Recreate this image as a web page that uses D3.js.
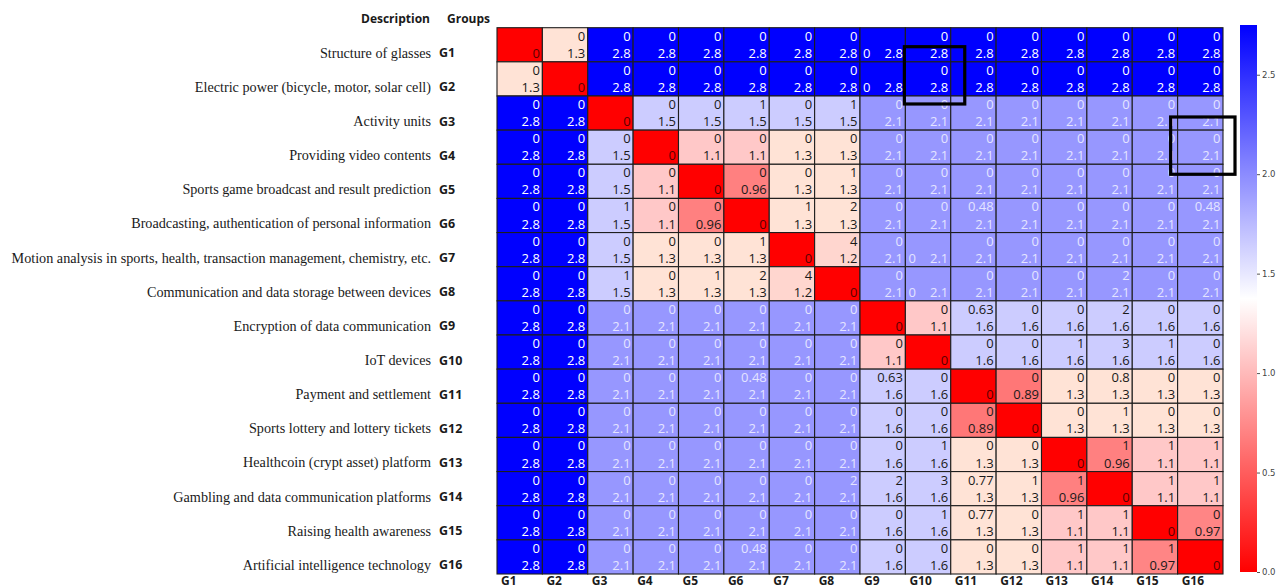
<!DOCTYPE html>
<html>
<head>
<meta charset="utf-8">
<script src="https://cdn.jsdelivr.net/npm/d3@7"></script>
<style>
  html, body { margin: 0; padding: 0; background: #ffffff; }
  svg { display: block; }
</style>
</head>
<body>
<svg id="chart" width="1288" height="588"></svg>
<script>
// Technology groups and their descriptions
const groups = ["G1","G2","G3","G4","G5","G6","G7","G8","G9","G10","G11","G12","G13","G14","G15","G16"];
const descriptions = [
  "Structure of glasses",
  "Electric power (bicycle, motor, solar cell)",
  "Activity units",
  "Providing video contents",
  "Sports game broadcast and result prediction",
  "Broadcasting, authentication of personal information",
  "Motion analysis in sports, health, transaction management, chemistry, etc.",
  "Communication and data storage between devices",
  "Encryption of data communication",
  "IoT devices",
  "Payment and settlement",
  "Sports lottery and lottery tickets",
  "Healthcoin (crypt asset) platform",
  "Gambling and data communication platforms",
  "Raising health awareness",
  "Artificial intelligence technology"
];

// Distance between groups (lower value in each cell, drives the colour)
const distanceRows = [
  [0, 1.3, 2.8, 2.8, 2.8, 2.8, 2.8, 2.8, 2.8, 2.8, 2.8, 2.8, 2.8, 2.8, 2.8, 2.8],
  [1.3, 0, 2.8, 2.8, 2.8, 2.8, 2.8, 2.8, 2.8, 2.8, 2.8, 2.8, 2.8, 2.8, 2.8, 2.8],
  [2.8, 2.8, 0, 1.5, 1.5, 1.5, 1.5, 1.5, 2.1, 2.1, 2.1, 2.1, 2.1, 2.1, 2.1, 2.1],
  [2.8, 2.8, 1.5, 0, 1.1, 1.1, 1.3, 1.3, 2.1, 2.1, 2.1, 2.1, 2.1, 2.1, 2.1, 2.1],
  [2.8, 2.8, 1.5, 1.1, 0, 0.96, 1.3, 1.3, 2.1, 2.1, 2.1, 2.1, 2.1, 2.1, 2.1, 2.1],
  [2.8, 2.8, 1.5, 1.1, 0.96, 0, 1.3, 1.3, 2.1, 2.1, 2.1, 2.1, 2.1, 2.1, 2.1, 2.1],
  [2.8, 2.8, 1.5, 1.3, 1.3, 1.3, 0, 1.2, 2.1, 2.1, 2.1, 2.1, 2.1, 2.1, 2.1, 2.1],
  [2.8, 2.8, 1.5, 1.3, 1.3, 1.3, 1.2, 0, 2.1, 2.1, 2.1, 2.1, 2.1, 2.1, 2.1, 2.1],
  [2.8, 2.8, 2.1, 2.1, 2.1, 2.1, 2.1, 2.1, 0, 1.1, 1.6, 1.6, 1.6, 1.6, 1.6, 1.6],
  [2.8, 2.8, 2.1, 2.1, 2.1, 2.1, 2.1, 2.1, 1.1, 0, 1.6, 1.6, 1.6, 1.6, 1.6, 1.6],
  [2.8, 2.8, 2.1, 2.1, 2.1, 2.1, 2.1, 2.1, 1.6, 1.6, 0, 0.89, 1.3, 1.3, 1.3, 1.3],
  [2.8, 2.8, 2.1, 2.1, 2.1, 2.1, 2.1, 2.1, 1.6, 1.6, 0.89, 0, 1.3, 1.3, 1.3, 1.3],
  [2.8, 2.8, 2.1, 2.1, 2.1, 2.1, 2.1, 2.1, 1.6, 1.6, 1.3, 1.3, 0, 0.96, 1.1, 1.1],
  [2.8, 2.8, 2.1, 2.1, 2.1, 2.1, 2.1, 2.1, 1.6, 1.6, 1.3, 1.3, 0.96, 0, 1.1, 1.1],
  [2.8, 2.8, 2.1, 2.1, 2.1, 2.1, 2.1, 2.1, 1.6, 1.6, 1.3, 1.3, 1.1, 1.1, 0, 0.97],
  [2.8, 2.8, 2.1, 2.1, 2.1, 2.1, 2.1, 2.1, 1.6, 1.6, 1.3, 1.3, 1.1, 1.1, 0.97, 0]
];

// Shared count between groups (upper value in each cell; none on the diagonal)
const sharedRows = [
  [null, 0, 0, 0, 0, 0, 0, 0, 0, 0, 0, 0, 0, 0, 0, 0],
  [0, null, 0, 0, 0, 0, 0, 0, 0, 0, 0, 0, 0, 0, 0, 0],
  [0, 0, null, 0, 0, 1, 0, 1, 0, 0, 0, 0, 0, 0, 0, 0],
  [0, 0, 0, null, 0, 0, 0, 0, 0, 0, 0, 0, 0, 0, 0, 0],
  [0, 0, 0, 0, null, 0, 0, 1, 0, 0, 0, 0, 0, 0, 0, 0],
  [0, 0, 1, 0, 0, null, 1, 2, 0, 0, 0.48, 0, 0, 0, 0, 0.48],
  [0, 0, 0, 0, 0, 1, null, 4, 0, 0, 0, 0, 0, 0, 0, 0],
  [0, 0, 1, 0, 1, 2, 4, null, 0, 0, 0, 0, 0, 2, 0, 0],
  [0, 0, 0, 0, 0, 0, 0, 0, null, 0, 0.63, 0, 0, 2, 0, 0],
  [0, 0, 0, 0, 0, 0, 0, 0, 0, null, 0, 0, 1, 3, 1, 0],
  [0, 0, 0, 0, 0, 0.48, 0, 0, 0.63, 0, null, 0, 0, 0.8, 0, 0],
  [0, 0, 0, 0, 0, 0, 0, 0, 0, 0, 0, null, 0, 1, 0, 0],
  [0, 0, 0, 0, 0, 0, 0, 0, 0, 1, 0, 0, null, 1, 1, 1],
  [0, 0, 0, 0, 0, 0, 0, 2, 2, 3, 0.77, 1, 1, null, 1, 1],
  [0, 0, 0, 0, 0, 0, 0, 0, 0, 1, 0.77, 0, 1, 1, null, 0],
  [0, 0, 0, 0, 0, 0.48, 0, 0, 0, 0, 0, 0, 1, 1, 1, null]
];

// Cells whose upper value is printed at the lower left instead
const shiftedCells = [["G1","G9"],["G2","G9"],["G7","G10"],["G8","G10"]];

// Colour bar ticks
const colorbarTicks = [0, 0.5, 1.0, 1.5, 2.0, 2.5];
const colorbarMax = 2.75;

const svg = d3.select("#chart");

const x = d3.scaleBand().domain(groups).range([497, 1223]).paddingInner(0).paddingOuter(0);
const y = d3.scaleBand().domain(groups).range([27.7, 574]).paddingInner(0).paddingOuter(0);
const bw = x.bandwidth();
const bh = y.bandwidth();

// Cell fill colour
const cellColor = d3.scaleLinear()
  .domain([0, 0.96, 1.1, 1.3, 1.4, 1.5, 1.6, 2.1, 2.8])
  .range(["#ff0000", "#ff8080", "#ffc8c8", "#ffe3d6", "#ffffff", "#ccccff", "#ccccff", "#9797ff", "#0000ff"])
  .clamp(true);

function textColor(v, diag) {
  if (diag) return "#5a0000";
  if (v >= 2.5) return "#ffffff";
  if (v >= 1.9) return "#e4e4ff";
  return "#1a1a1a";
}

const shiftedSet = new Set(shiftedCells.map(d => d[0] + "|" + d[1]));

const cells = [];
groups.forEach((rg, i) => {
  groups.forEach((cg, j) => {
    cells.push({
      row: rg, col: cg, diag: i === j,
      dist: distanceRows[i][j], shared: sharedRows[i][j],
      shifted: shiftedSet.has(rg + "|" + cg)
    });
  });
});

const grid = svg.append("g").attr("class", "grid");

grid.selectAll("rect.cell")
  .data(cells)
  .join("rect")
  .attr("class", "cell")
  .attr("x", d => x(d.col))
  .attr("y", d => y(d.row))
  .attr("width", bw)
  .attr("height", bh)
  .attr("fill", d => cellColor(d.dist))
  .attr("stroke", "#1e1e1e")
  .attr("stroke-width", 1.1);

const numFont = "'Open Sans', 'Noto Sans', sans-serif";

// Lower value: distance
grid.selectAll("text.dist")
  .data(cells)
  .join("text")
  .attr("class", "dist")
  .attr("x", d => x(d.col) + bw - 2.5)
  .attr("y", d => y(d.row) + 25.2)
  .attr("text-anchor", "end")
  .attr("dominant-baseline", "central")
  .attr("font-family", numFont)
  .attr("font-size", 13)
  .attr("fill", d => textColor(d.dist, d.diag))
  .text(d => String(d.dist));

// Upper value: shared count
grid.selectAll("text.shared")
  .data(cells.filter(d => d.shared !== null))
  .join("text")
  .attr("class", "shared")
  .attr("x", d => d.shifted ? x(d.col) + 3 : x(d.col) + bw - 2.5)
  .attr("y", d => d.shifted ? y(d.row) + 25.2 : y(d.row) + 8)
  .attr("text-anchor", d => d.shifted ? "start" : "end")
  .attr("dominant-baseline", "central")
  .attr("font-family", numFont)
  .attr("font-size", 13)
  .attr("fill", d => textColor(d.dist, false))
  .text(d => String(d.shared));

// Row labels: description + group
const labelFont = "'Liberation Serif', 'Times New Roman', serif";
const boldFont = "'Open Sans', 'Noto Sans', sans-serif";

svg.append("g").selectAll("text")
  .data(groups)
  .join("text")
  .attr("x", 431)
  .attr("y", d => y(d) + bh / 2 + 8)
  .attr("text-anchor", "end")
  .attr("dominant-baseline", "central")
  .attr("font-family", labelFont)
  .attr("font-size", 14.2)
  .attr("fill", "#1a1a1a")
  .text((d, i) => descriptions[i]);

svg.append("g").selectAll("text")
  .data(groups)
  .join("text")
  .attr("x", 439)
  .attr("y", d => y(d) + bh / 2 + 8)
  .attr("text-anchor", "start")
  .attr("dominant-baseline", "central")
  .attr("font-family", boldFont)
  .attr("font-weight", 700)
  .attr("font-size", 12.5)
  .attr("fill", "#1a1a1a")
  .text(d => d);

// Column labels
svg.append("g").selectAll("text")
  .data(groups)
  .join("text")
  .attr("x", d => x(d) + 4)
  .attr("y", 580)
  .attr("text-anchor", "start")
  .attr("dominant-baseline", "central")
  .attr("font-family", boldFont)
  .attr("font-weight", 700)
  .attr("font-size", 12)
  .attr("fill", "#1a1a1a")
  .text(d => d);

// Header
svg.append("text")
  .attr("x", 430).attr("y", 18)
  .attr("text-anchor", "end").attr("dominant-baseline", "central")
  .attr("font-family", boldFont).attr("font-weight", 700).attr("font-size", 12)
  .attr("fill", "#1a1a1a")
  .text("Description");
svg.append("text")
  .attr("x", 447).attr("y", 18)
  .attr("text-anchor", "start").attr("dominant-baseline", "central")
  .attr("font-family", boldFont).attr("font-weight", 700).attr("font-size", 12)
  .attr("fill", "#1a1a1a")
  .text("Groups");

// Highlight frames
const frames = [
  { x0: x("G10") - 1, x1: x("G10") + bw + 14, y0: y("G1") + 19, y1: y("G3") + 8 },
  { x0: x("G16") - 7, x1: x("G16") + bw + 12, y0: y("G3") + 21, y1: y("G5") + 10 }
];
svg.append("g").selectAll("rect")
  .data(frames)
  .join("rect")
  .attr("x", d => d.x0)
  .attr("y", d => d.y0)
  .attr("width", d => d.x1 - d.x0)
  .attr("height", d => d.y1 - d.y0)
  .attr("fill", "none")
  .attr("stroke", "#000")
  .attr("stroke-width", 3.2);

// Colour bar
const cbScale = d3.scaleLinear().domain([0, colorbarMax / 2, colorbarMax]).range(["#ff0000", "#ffffff", "#0000ff"]);
const cbY = d3.scaleLinear().domain([0, colorbarMax]).range([572, 25]);
const defs = svg.append("defs");
const grad = defs.append("linearGradient")
  .attr("id", "cbGrad")
  .attr("x1", 0).attr("y1", 1).attr("x2", 0).attr("y2", 0);
d3.range(0, 1.0001, 0.05).forEach(t => {
  grad.append("stop")
    .attr("offset", t)
    .attr("stop-color", cbScale(t * colorbarMax));
});
svg.append("rect")
  .attr("x", 1240)
  .attr("y", cbY(colorbarMax))
  .attr("width", 17)
  .attr("height", cbY(0) - cbY(colorbarMax))
  .attr("fill", "url(#cbGrad)");

const cbAxis = svg.append("g")
  .attr("transform", "translate(1257,0)")
  .call(d3.axisRight(cbY).tickValues(colorbarTicks).tickFormat(d3.format(".1f")).tickSize(3).tickPadding(2));
cbAxis.select(".domain").remove();
cbAxis.selectAll("line").attr("stroke", "#555");
cbAxis.selectAll("text")
  .attr("font-family", "'DejaVu Sans', sans-serif")
  .attr("font-size", 8.5)
  .attr("fill", "#444");
</script>
</body>
</html>
